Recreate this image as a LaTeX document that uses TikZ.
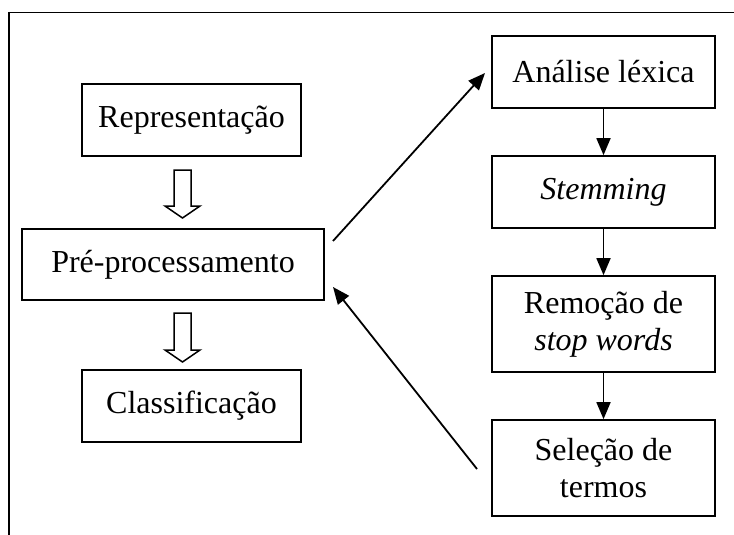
\documentclass[tikz,border=0pt]{standalone}
\usepackage{fontspec}
\setmainfont{Liberation Serif}
\usetikzlibrary{arrows.meta}
\begin{document}
\begin{tikzpicture}[x=1pt,y=-1pt,
  box/.style={draw,line width=1.7pt,inner sep=0pt,align=center,
    font=\fontsize{32}{37}\selectfont},
  conn/.style={line width=1.8pt,-{Triangle[length=17pt,width=14pt]}},
  hollow/.style={draw,line width=1.5pt,fill=white,line join=miter}]
\useasboundingbox (0,0) rectangle (734,535);
% frame (top and left only)
\draw[line width=1.7pt] (8,12.5) -- (734,12.5);
\draw[line width=2.4pt] (9,12) -- (9,535);
% left column
\node[box,minimum width=219pt,minimum height=72pt] (rep) at (191.5,120) {Representação};
\node[box,minimum width=302pt,minimum height=71pt] (pre) at (173,264.5) {Pré-processamento};
\node[box,minimum width=219pt,minimum height=72pt] (cla) at (191.5,406) {Classificação};
% right column
\node[box,minimum width=223pt,minimum height=72pt] (ana) at (603.5,72) {Análise léxica};
\node[box,minimum width=223pt,minimum height=72pt] (stem) at (603.5,192) {\itshape Stemming};
\node[box,minimum width=223pt,minimum height=96pt] (rem) at (603.5,324) {Remoção de\\\itshape stop words};
\node[box,minimum width=223pt,minimum height=96pt] (sel) at (603.5,468) {Seleção de\\termos};
% hollow block arrows
\path[hollow] (174,170) -- (191,170) -- (191,206) -- (200,206) -- (182.5,218)
  -- (165,206) -- (174,206) -- cycle;
\path[hollow] (174,313) -- (191,313) -- (191,350) -- (200,350) -- (182.5,362)
  -- (165,350) -- (174,350) -- cycle;
% vertical connectors
\draw[conn] (ana.south) -- (stem.north);
\draw[conn] (stem.south) -- (rem.north);
\draw[conn] (rem.south) -- (sel.north);
% diagonal connectors
\coordinate (d1s) at (333,241);
\coordinate (d1e) at (485,73);
\coordinate (d2s) at (477,469);
\coordinate (d2e) at (333,287);
\draw[conn] (d1s) -- (d1e);
\draw[conn] (d2s) -- (d2e);
\end{tikzpicture}
\end{document}
